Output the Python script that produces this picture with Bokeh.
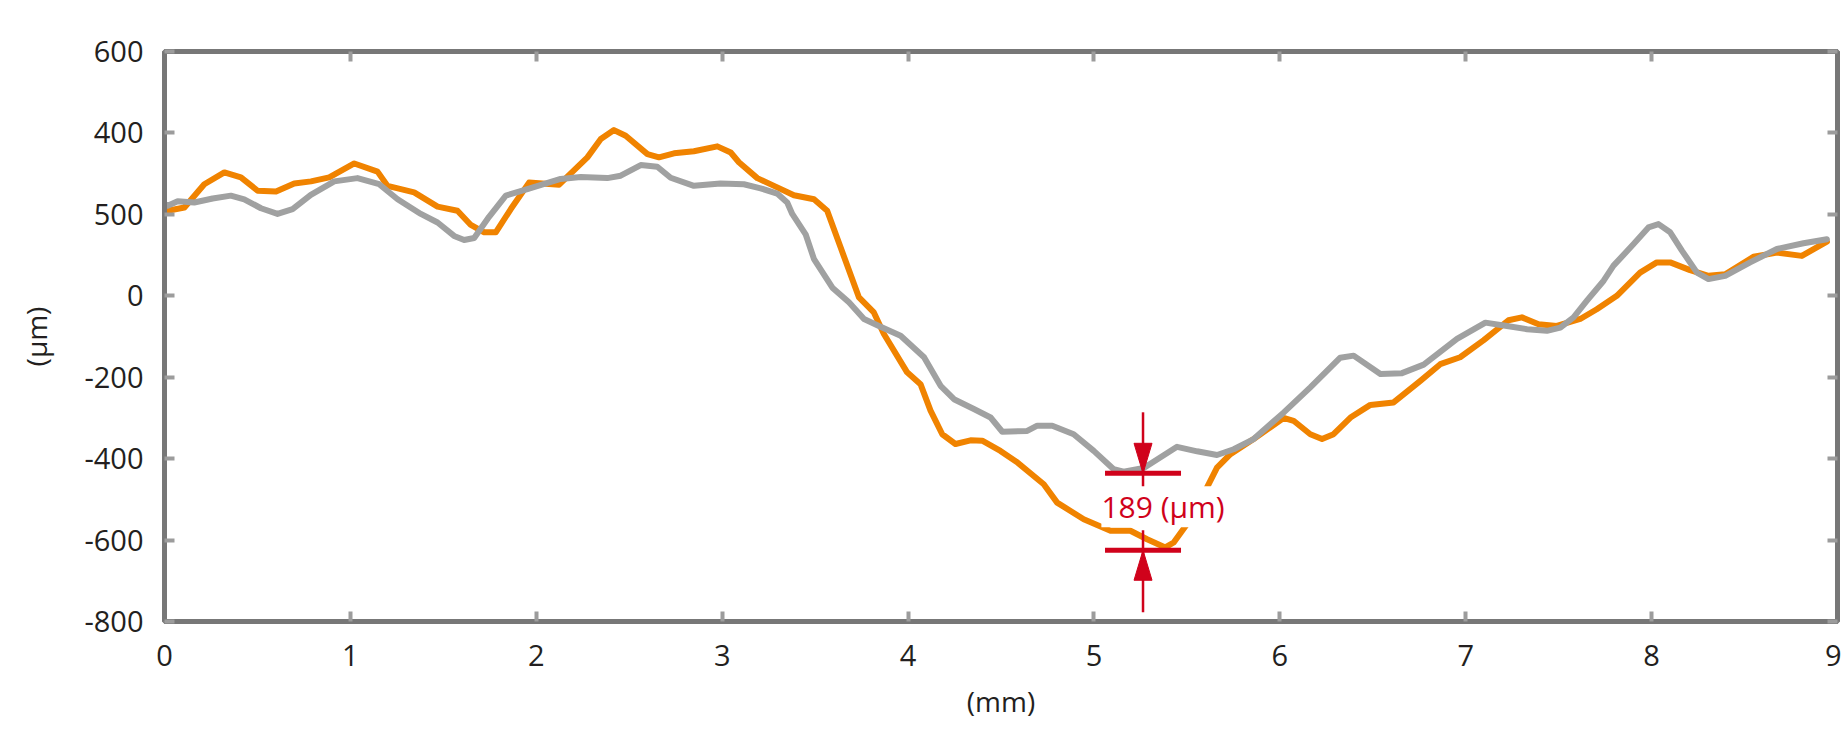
from bokeh.plotting import figure
from bokeh.models import FixedTicker, LinearAxis, Range1d
from bokeh.core.properties import value
from bokeh.embed import file_html
from bokeh.resources import INLINE

# ---- data ----
orange_x = [0.0, 0.017, 0.107, 0.214, 0.322, 0.411, 0.501, 0.60, 0.698, 0.788, 0.886, 1.021, 1.146, 1.20,
            1.343, 1.469, 1.576, 1.648, 1.72, 1.782, 1.863, 1.961, 2.123, 2.275, 2.347, 2.418, 2.481,
            2.598, 2.66, 2.741, 2.848, 2.974, 3.046, 3.09, 3.189, 3.279, 3.386, 3.494, 3.565, 3.637,
            3.736, 3.816, 3.87, 3.995, 4.067, 4.121, 4.184, 4.255, 4.336, 4.399, 4.497, 4.587, 4.73,
            4.802, 4.945, 5.089, 5.196, 5.286, 5.384, 5.429, 5.5, 5.59, 5.662, 5.734, 5.859, 6.02,
            6.074, 6.164, 6.227, 6.289, 6.38, 6.487, 6.612, 6.756, 6.863, 6.97, 7.097, 7.23, 7.302,
            7.392, 7.49, 7.616, 7.705, 7.813, 7.938, 8.028, 8.1, 8.207, 8.306, 8.396, 8.548, 8.674,
            8.808, 8.943]
orange_y = [207, 209, 217, 274, 303, 291, 258, 256, 276, 281, 291, 325, 305, 270,
            254, 219, 209, 174, 156, 156, 213, 278, 273, 340, 385, 407, 393,
            348, 340, 350, 355, 367, 352, 328, 289, 270, 247, 237, 209, 119,
            -4, -41, -94, -188, -217, -282, -340, -364, -355, -356, -381, -409, -463,
            -508, -549, -577, -577, -598, -618, -606, -561, -487, -422, -389, -352, -300,
            -307, -340, -352, -340, -299, -268, -262, -209, -168, -151, -109, -60, -53,
            -70, -74, -57, -33, 0, 57, 82, 82, 63, 49, 53, 96, 106,
            98, 133]

gray_x = [0.0, 0.017, 0.071, 0.16, 0.259, 0.357, 0.429, 0.519, 0.608, 0.689, 0.787, 0.913, 1.038, 1.155,
          1.254, 1.379, 1.469, 1.558, 1.612, 1.666, 1.746, 1.836, 1.952, 2.131, 2.239, 2.382, 2.454,
          2.562, 2.651, 2.723, 2.848, 2.991, 3.117, 3.207, 3.296, 3.35, 3.377, 3.449, 3.494, 3.593,
          3.682, 3.763, 3.852, 3.96, 4.086, 4.175, 4.247, 4.354, 4.444, 4.507, 4.641, 4.695, 4.776,
          4.891, 4.999, 5.106, 5.16, 5.268, 5.447, 5.555, 5.662, 5.752, 5.859, 6.02, 6.164, 6.325,
          6.397, 6.541, 6.657, 6.774, 6.953, 7.106, 7.222, 7.33, 7.437, 7.509, 7.58, 7.652, 7.742,
          7.795, 7.903, 7.983, 8.037, 8.1, 8.163, 8.244, 8.306, 8.396, 8.53, 8.674, 8.817, 8.943]
gray_y = [224, 221, 232, 229, 239, 246, 237, 215, 201, 213, 248, 281, 289, 274,
          237, 201, 180, 147, 137, 142, 194, 246, 262, 287, 292, 289, 295,
          321, 317, 290, 270, 276, 274, 264, 251, 229, 201, 151, 90, 20,
          -16, -57, -76, -98, -151, -221, -254, -278, -299, -334, -332, -319, -319,
          -340, -381, -426, -432, -423, -371, -382, -391, -377, -352, -287, -225, -152,
          -147, -192, -190, -169, -106, -66, -74, -82, -86, -78, -53, -12, 37,
          74, 127, 168, 176, 156, 111, 57, 41, 49, 82, 115, 129, 139]

x_ticks = [0, 1, 2, 3, 4, 5, 6, 7, 8, 9]
y_ticks = [-800, -600, -400, -200, 0, 200, 400, 600]
y_tick_labels = ["-800", "-600", "-400", "-200", "0", "500", "400", "600"]
x_label = "(mm)"
y_label = "(μm)"

# measured difference annotation
ann_x = 5.264
ann_top = -436
ann_bottom = -625
ann_text = "189 (μm)"

# ---- styling ----
FONT = "Open Sans"
ORANGE = "#F08300"
GRAY = "#A0A1A1"
FRAME = "#777777"
TICK = "#9C9C9C"
RED = "#D0021B"
TXT = "#231F20"

W, H = 1841, 729
ML, MR, MT, MB = 164, 4, 51, 108
X0, X1, Y0, Y1 = 0, 9, -800, 600

p = figure(width=W, height=H, output_backend="svg", toolbar_location=None,
           x_range=Range1d(X0, X1), y_range=Range1d(Y0, Y1),
           min_border_left=ML, min_border_right=MR, min_border_top=MT, min_border_bottom=MB)
p.grid.visible = False
p.outline_line_color = FRAME
p.outline_line_width = 5
p.background_fill_color = "white"
p.border_fill_color = "white"

# pixel -> data conversions (for annotation sizes)
fw = W - ML - MR
fh = H - MT - MB
ux = (X1 - X0) / fw
uy = (Y1 - Y0) / fh


def style_axis(ax, labels=True):
    ax.axis_line_color = FRAME
    ax.axis_line_width = 5
    ax.major_tick_line_color = TICK
    ax.major_tick_line_width = 4
    ax.major_tick_in = 10
    ax.major_tick_out = 0
    ax.minor_tick_line_color = None
    if labels:
        ax.major_label_text_font = FONT
        ax.major_label_text_font_size = "29px"
        ax.major_label_text_color = TXT
        ax.axis_label_text_font = FONT
        ax.axis_label_text_font_size = "28px"
        ax.axis_label_text_font_style = "normal"
        ax.axis_label_text_color = TXT
    else:
        ax.major_label_text_font_size = "1px"
        ax.major_label_text_color = None
        ax.major_label_standoff = 0
        ax.axis_label = None


xa = p.xaxis[0]
xa.ticker = FixedTicker(ticks=x_ticks)
xa.axis_label = x_label
style_axis(xa)
xa.major_label_standoff = 23
xa.axis_label_standoff = 13

ya = p.yaxis[0]
ya.ticker = FixedTicker(ticks=y_ticks)
ya.major_label_overrides = {t: l for t, l in zip(y_ticks, y_tick_labels)}
ya.axis_label = y_label
style_axis(ya)
ya.major_label_standoff = 21
ya.axis_label_standoff = 26

top = LinearAxis(ticker=FixedTicker(ticks=x_ticks))
style_axis(top, labels=False)
p.add_layout(top, "above")
right = LinearAxis(ticker=FixedTicker(ticks=y_ticks))
style_axis(right, labels=False)
p.add_layout(right, "right")

# ---- curves ----
p.line(orange_x, orange_y, line_color=ORANGE, line_width=6, line_join="round", line_cap="round")
p.line(gray_x, gray_y, line_color=GRAY, line_width=6, line_join="round", line_cap="round")

# ---- annotation ----
bar_half = 38 * ux
head_len = 30 * uy
head_half = 9 * ux
over = 16 * uy
p.segment(x0=[ann_x - bar_half, ann_x - bar_half], x1=[ann_x + bar_half, ann_x + bar_half],
          y0=[ann_top, ann_bottom], y1=[ann_top, ann_bottom], line_color=RED, line_width=5)
p.segment(x0=[ann_x, ann_x], x1=[ann_x, ann_x],
          y0=[ann_top + 61 * uy, ann_bottom + 20 * uy],
          y1=[ann_top - over, ann_bottom - 62 * uy], line_color=RED, line_width=2.5)
p.patches(xs=[[ann_x, ann_x - head_half, ann_x + head_half],
              [ann_x, ann_x - head_half, ann_x + head_half]],
          ys=[[ann_top, ann_top + head_len, ann_top + head_len],
              [ann_bottom, ann_bottom - head_len, ann_bottom - head_len]],
          fill_color=RED, line_color=RED, line_width=1)
p.text(x=[ann_x + 20 * ux], y=[(ann_top + ann_bottom) / 2 + 5 * uy], text=[ann_text],
       text_align="center", text_baseline="middle", text_font=value(FONT),
       text_font_size="30px", text_color=RED, background_fill_color="white")

open("out.html", "w").write(file_html(p, INLINE))
